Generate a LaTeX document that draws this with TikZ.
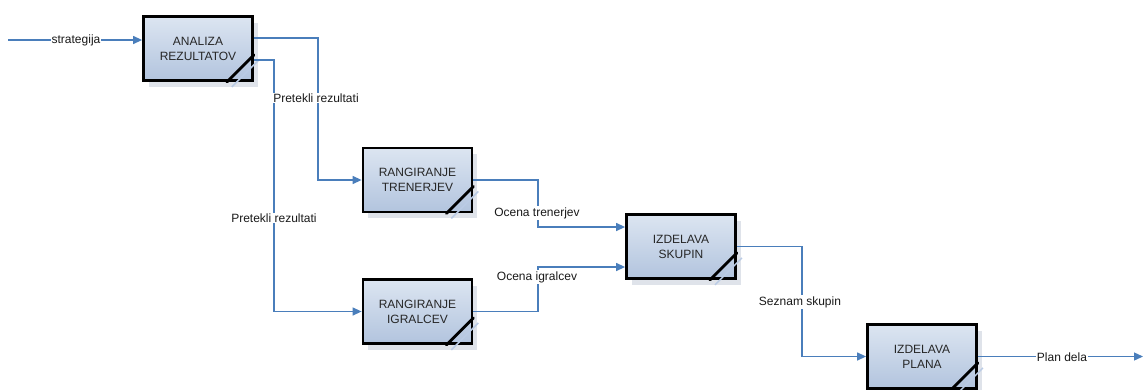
\documentclass[tikz,border=0pt]{standalone}
\usepackage{fontspec}
\setmainfont{Liberation Sans}
\usetikzlibrary{arrows.meta,shadows}
\definecolor{flow}{HTML}{4A7EBB}
\definecolor{boxtop}{HTML}{DCE5F1}
\definecolor{boxbot}{HTML}{B2C4DE}
\definecolor{shade}{HTML}{DFE3EA}
\definecolor{fold}{HTML}{BACBE5}
\begin{document}
\begin{tikzpicture}[x=1pt,y=-1pt,
  proc/.style={draw=black, line width=2.8pt, top color=boxtop, bottom color=boxbot,
    minimum width=109pt, minimum height=64pt, inner sep=0pt, align=center,
    font=\fontsize{12}{15}\selectfont, text=black!85,
    drop shadow={shadow xshift=5pt, shadow yshift=-6pt, fill=shade, opacity=1}},
  conn/.style={draw=flow, line width=1.3pt, -{Triangle[length=9pt,width=8pt]}},
  lbl/.style={fill=white, inner sep=1pt, font=\fontsize{12}{14}\selectfont, text=black!90},
  dogear/.style={line width=2.8pt, line cap=round},
  dogshade/.style={draw=fold, line width=1.5pt}
 ]
\useasboundingbox (0,0) rectangle (1144,389);

% process boxes
\node[proc] (a) at (198,48.5)   {ANALIZA\\REZULTATOV};
\node[proc] (b) at (417.5,180)  {RANGIRANJE\\TRENERJEV};
\node[proc] (c) at (417.5,311.5){RANGIRANJE\\IGRALCEV};
\node[proc] (d) at (681,246.5)  {IZDELAVA\\SKUPIN};
\node[proc] (e) at (922,356.5)  {IZDELAVA\\PLANA};

% folded corners
\foreach \n in {a,b,c,d,e} {
  \draw[dogshade] ([shift={(-22pt,-5pt)}]\n.south east) -- ([shift={(5pt,22pt)}]\n.south east);
  \draw[dogear] ([xshift=-27pt]\n.south east) -- ([yshift=27pt]\n.south east);
}

% free ends
\coordinate (in)  at (8,40);
\coordinate (out) at (1143,356.5);

% connectors
\draw[conn] (in) -- (in -| a.west);
\draw[conn] ([yshift=10.5pt]a.east) -| (318,180) -- (b.west);
\draw[conn] ([yshift=-11.5pt]a.east) -| (274,311.5) -- (c.west);
\draw[conn] (b.east) -| (538,227) -- ([yshift=19.5pt]d.west);
\draw[conn] (c.east) -| (538,267) -- ([yshift=-20.5pt]d.west);
\draw[conn] (d.east) -| (802,356.5) -- (e.west);
\draw[conn] (e.east) -- (out);

% connector labels
\node[lbl] (l1) at (76,40)    {strategija};
\node[lbl] (l2) at (316,98)   {Pretekli rezultati};
\node[lbl] (l3) at (274,218)  {Pretekli rezultati};
\node[lbl] (l4) at (537,213)  {Ocena trenerjev};
\node[lbl] (l5) at (537,277)  {Ocena igralcev};
\node[lbl] (l6) at (800,302)  {Seznam skupin};
\node[lbl] (l7) at (1062,357) {Plan dela};
\end{tikzpicture}
\end{document}
